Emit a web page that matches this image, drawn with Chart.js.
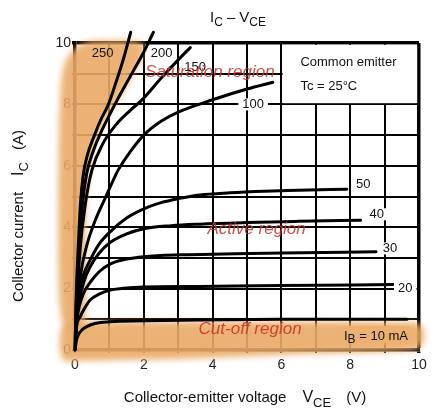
<!DOCTYPE html>
<html><head><meta charset="utf-8">
<script src="https://cdn.jsdelivr.net/npm/chart.js@4/dist/chart.umd.min.js"></script>
<style>html,body{margin:0;padding:0;background:#fff;}#wrap{width:438px;height:410px;}</style>
</head><body><div id="wrap"><canvas id="c" width="438" height="410"></canvas></div>
<script>
const FONT = '"Liberation Sans", Arial, sans-serif';

// Base current of each curve (mA)
const ibValues = [250, 200, 150, 100, 50, 40, 30, 20, 10];
// Collector-emitter voltage (V) / collector current (A) along each curve
const vce250 = [0, 0.03, 0.1, 0.16, 0.24, 0.36, 0.55, 0.75, 0.97, 1.2, 1.4, 1.62];
const ic250  = [0, 1.6, 3.5, 4.8, 5.7, 6.35, 6.95, 7.5, 8.0, 8.75, 9.45, 10.35];
const vce200 = [0, 0.04, 0.12, 0.22, 0.34, 0.52, 0.8, 1.0, 1.16, 1.4, 1.7, 1.95, 2.28];
const ic200  = [0, 1.5, 3.4, 4.8, 5.75, 6.45, 7.2, 7.65, 8.0, 8.5, 9.1, 9.6, 10.35];
const vce150 = [0, 0.05, 0.15, 0.3, 0.49, 0.8, 1.2, 1.6, 1.94, 2.5, 3.0, 3.35];
const ic150  = [0, 1.5, 3.3, 4.75, 5.85, 6.7, 7.35, 7.8, 8.14, 8.85, 9.45, 9.85];
const vce100 = [0, 0.06, 0.17, 0.34, 0.58, 0.9, 1.25, 1.6, 2.0, 2.5, 3.0, 4.0, 5.0, 5.75];
const ic100  = [0, 1.3, 2.5, 3.4, 4.2, 5.0, 5.85, 6.45, 7.0, 7.45, 7.75, 8.15, 8.5, 8.72];
const vce50  = [0, 0.04, 0.15, 0.25, 0.44, 0.7, 1.02, 1.5, 2.0, 2.5, 3.0, 3.63, 4.5, 5.5, 6.5, 7.9];
const ic50   = [0, 1.0, 1.95, 2.45, 2.93, 3.45, 3.85, 4.3, 4.6, 4.8, 4.93, 5.05, 5.12, 5.17, 5.2, 5.24];
const vce40  = [0, 0.04, 0.12, 0.25, 0.44, 0.7, 1.02, 1.5, 2.0, 2.8, 3.63, 5.0, 6.5, 8.3];
const ic40   = [0, 0.9, 1.6, 2.2, 2.71, 3.15, 3.5, 3.78, 3.95, 4.05, 4.1, 4.15, 4.19, 4.23];
const vce30  = [0, 0.04, 0.12, 0.25, 0.44, 0.7, 1.02, 1.5, 2.0, 3.0, 4.0, 6.0, 8.75];
const ic30   = [0, 0.8, 1.4, 1.85, 2.2, 2.55, 2.8, 2.96, 3.04, 3.1, 3.12, 3.16, 3.2];
const vce20  = [0, 0.04, 0.15, 0.3, 0.44, 0.7, 1.02, 1.5, 2.0, 3.63, 6.0, 9.25];
const ic20   = [0, 0.7, 1.08, 1.4, 1.63, 1.82, 1.95, 2.02, 2.05, 2.07, 2.1, 2.13];
const vce10  = [0, 0.04, 0.1, 0.2, 0.34, 0.6, 1.0, 2.0, 3.63, 6.0, 9.65];
const ic10   = [0, 0.3, 0.5, 0.65, 0.76, 0.87, 0.92, 0.95, 0.98, 1.0, 1.0];

// Curve label positions (V, A)
const curveLabels = ['250', '200', '150', '100', '50', '40', '30', '20'];
const curveLabelX = [0.8, 2.52, 3.49, 5.18, 8.38, 8.77, 9.16, 9.6];
const curveLabelY = [9.68, 9.68, 9.23, 8.0, 5.4, 4.42, 3.31, 2.03];

// Shaded operating regions (V, A)
const satRegionX = [-0.45, -0.5, -0.45, -0.3, 0.2, 1.0, 2.05, 2.0, 1.6, 1.1, 0.65, 0.38, 0.3, 0.3, 0.32];
const satRegionY = [0.4, 4, 8.5, 9.5, 10.05, 10.1, 10.05, 9.6, 8.8, 7.9, 7.0, 6.0, 4.5, 2.5, 0.6];
const cutRegionX = [-0.45, -0.45, 0.5, 4, 9.7, 10.15, 10.15, 9.5, 6, 3, 0];
const cutRegionY = [-0.4, 0.95, 0.92, 0.92, 0.92, 0.85, 0.05, -0.05, -0.15, -0.3, -0.35];

const regionNames = ['Saturation region', 'Active region', 'Cut-off region'];
const regionNameX = [3.92, 5.28, 5.09];
const regionNameY = [9.04, 3.94, 0.68];

// Info box corners (V, A)
const infoBoxX = [6, 10];
const infoBoxY = [8, 10];
const infoLines = ['Common emitter', 'Tc = 25°C'];
const ibLabelX = 8.75, ibLabelY = 0.49;

const curves = [[vce250, ic250], [vce200, ic200], [vce150, ic150], [vce100, ic100],
  [vce50, ic50], [vce40, ic40], [vce30, ic30], [vce20, ic20], [vce10, ic10]];

const zip = (xs, ys) => xs.map((x, i) => ({x, y: ys[i]}));

const datasets = curves.map((c, i) => ({
  label: 'IB=' + ibValues[i], data: zip(c[0], c[1]), borderColor: '#000',
  borderWidth: 3, pointRadius: 0, fill: false, cubicInterpolationMode: 'monotone',
  clip: i < 2 ? false : undefined, borderCapStyle: 'round'}));

function drawParts(ctx, parts, x, y, align) {
  // parts: [text, size, dy, gapBefore]
  let total = 0;
  parts.forEach(p => { ctx.font = p[1] + 'px ' + FONT; total += (p[3] || 0) + ctx.measureText(p[0]).width; });
  let cx = align === 'center' ? x - total / 2 : x;
  parts.forEach(p => {
    ctx.font = p[1] + 'px ' + FONT;
    cx += (p[3] || 0);
    ctx.textAlign = 'left';
    ctx.fillText(p[0], cx, y + p[2]);
    cx += ctx.measureText(p[0]).width;
  });
}

function smoothRegion(ctx, pts) {
  const n = pts.length, mid = (a, b) => [(a[0] + b[0]) / 2, (a[1] + b[1]) / 2];
  const m0 = mid(pts[n - 1], pts[0]);
  ctx.beginPath(); ctx.moveTo(m0[0], m0[1]);
  for (let i = 0; i < n; i++) {
    const p = pts[i], m = mid(p, pts[(i + 1) % n]);
    ctx.quadraticCurveTo(p[0], p[1], m[0], m[1]);
  }
  ctx.closePath(); ctx.fill();
}

const overlay = {
  id: 'overlay',
  beforeDatasetsDraw(chart) {
    const ctx = chart.ctx, xs = chart.scales.x, ys = chart.scales.y;
    const toPx = (X, Y) => X.map((v, i) => [xs.getPixelForValue(v), ys.getPixelForValue(Y[i])]);
    ctx.save();
    ctx.filter = 'blur(3px)';
    ctx.fillStyle = 'rgba(234,170,102,0.9)';
    smoothRegion(ctx, toPx(satRegionX, satRegionY));
    smoothRegion(ctx, toPx(cutRegionX, cutRegionY));
    ctx.restore();
  },
  afterDraw(chart) {
    const ctx = chart.ctx, xs = chart.scales.x, ys = chart.scales.y;
    const px = v => xs.getPixelForValue(v), py = v => ys.getPixelForValue(v);
    ctx.save();
    // info box
    const bx0 = px(infoBoxX[0]), bx1 = px(infoBoxX[1]), by0 = py(infoBoxY[1]), by1 = py(infoBoxY[0]);
    ctx.fillStyle = '#fff';
    ctx.fillRect(bx0 + 1.2, by0 + 1.8, bx1 - bx0 - 3, by1 - by0 - 3);
    ctx.fillStyle = '#111';
    ctx.font = '13px ' + FONT; ctx.textAlign = 'left'; ctx.textBaseline = 'alphabetic';
    ctx.fillText(infoLines[0], bx0 + 19, by0 + 23);
    ctx.fillText(infoLines[1], bx0 + 19, by0 + 47);
    // curve labels
    ctx.font = '13px ' + FONT; ctx.textAlign = 'center'; ctx.textBaseline = 'middle';
    curveLabels.forEach((t, i) => {
      const x = px(curveLabelX[i]), y = py(curveLabelY[i]);
      const w = ctx.measureText(t).width;
      if (i >= 3) { ctx.fillStyle = '#fff'; ctx.fillRect(x - w / 2 - 4, y - 6, w + 8, 12); }
      ctx.fillStyle = '#111';
      ctx.fillText(t, x, y + 0.5);
    });
    // IB label
    ctx.textBaseline = 'alphabetic';
    const ix = px(ibLabelX), iy = py(ibLabelY);
    ctx.fillStyle = 'rgb(236,176,112)';
    ctx.fillRect(ix - 33, iy - 9, 66, 17);
    ctx.fillStyle = '#111';
    drawParts(ctx, [['I', 13, 0], ['B', 12, 3], [' = 10 mA', 13, 0]], ix, iy + 5, 'center');
    // region names
    ctx.font = 'italic 17px ' + FONT; ctx.textAlign = 'center'; ctx.textBaseline = 'middle';
    ctx.fillStyle = 'rgba(200,48,38,0.85)';
    regionNames.forEach((t, i) => ctx.fillText(t, px(regionNameX[i]), py(regionNameY[i])));
    // title
    ctx.fillStyle = '#111'; ctx.textBaseline = 'alphabetic';
    drawParts(ctx, [['I', 15, 0], ['C', 12, 4], ['\u2013', 15, 0, 4], ['V', 15, 0, 4], ['CE', 12, 4]], 238, 22, 'center');
    // x axis title
    drawParts(ctx, [['Collector-emitter voltage', 15, 0], ['V', 16, 0, 16], ['CE', 13, 5], ['(V)', 15, 0, 15]], 245, 402, 'center');
    // y axis title
    ctx.translate(23, 216); ctx.rotate(-Math.PI / 2);
    drawParts(ctx, [['Collector current', 15, 0], ['I', 16, 0, 16], ['C', 13, 5], ['(A)', 15, 0, 12]], 0, 0, 'center');
    ctx.restore();
  }
};

const tickCb = v => (v % 2 === 0 ? String(v) : '');
new Chart(document.getElementById('c'), {
  type: 'line',
  data: {datasets},
  options: {
    responsive: false, animation: false, devicePixelRatio: 1,
    layout: {padding: {top: 43, right: 19, left: 0, bottom: 0}},
    plugins: {legend: {display: false}, tooltip: {enabled: false}, title: {display: false}},
    scales: {
      x: {type: 'linear', min: 0, max: 10, z: 1,
        afterFit: s => { s.height = 60; },
        afterBuildTicks: s => { s.ticks = Array.from({length: 11}, (_, i) => ({value: i})); },
        ticks: {callback: tickCb, font: {size: 14, family: FONT}, color: '#222', padding: 4, maxRotation: 0, autoSkip: false},
        grid: {color: '#000', lineWidth: c => (c.tick && c.tick.value === 10 ? 3.5 : 2), tickLength: 3},
        border: {color: '#000', width: 3.5}},
      y: {type: 'linear', min: 0, max: 10, z: 1,
        afterFit: s => { s.width = 75; },
        afterBuildTicks: s => { s.ticks = Array.from({length: 11}, (_, i) => ({value: i})); },
        ticks: {callback: tickCb, font: {size: 14, family: FONT}, color: '#222', padding: 1, autoSkip: false},
        grid: {color: '#000', lineWidth: c => (c.tick && c.tick.value === 10 ? 3.5 : 2), tickLength: 3},
        border: {color: '#000', width: 3.5}}
    }
  },
  plugins: [overlay]
});
</script></body></html>
